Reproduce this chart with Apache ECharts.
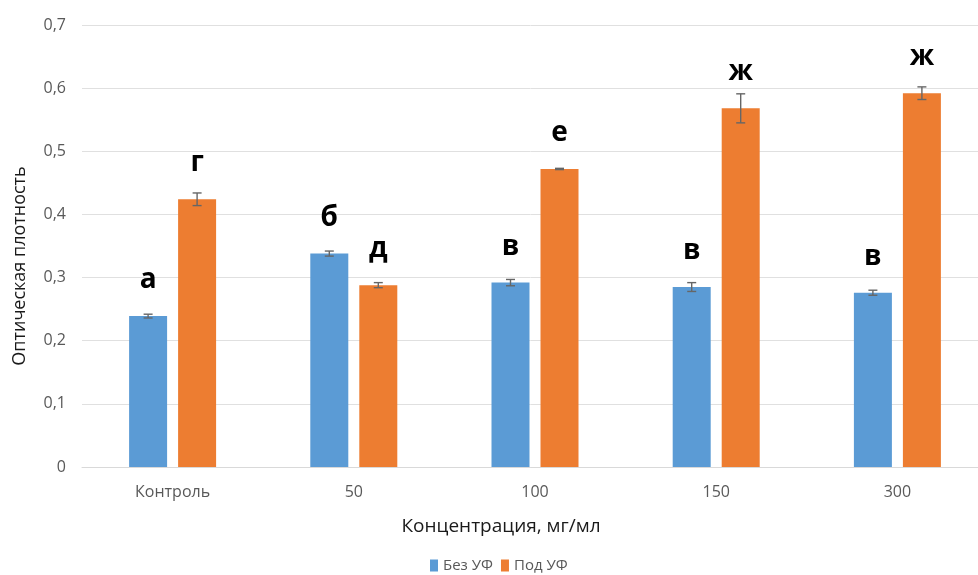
<!DOCTYPE html>
<html>
<head>
<meta charset="utf-8">
<script src="https://cdn.jsdelivr.net/npm/echarts@6/dist/echarts.min.js"></script>
<style>
  html, body { margin: 0; padding: 0; background: #fff; }
  #chart { width: 978px; height: 575px; }
</style>
</head>
<body>
<div id="chart"></div>
<script>
// Optical density by concentration, without / with UV exposure
const categories = ['Контроль', '50', '100', '150', '300'];
const noUV = [0.239, 0.338, 0.292, 0.285, 0.276];
const noUVErr = [0.003, 0.004, 0.005, 0.007, 0.004];
const withUV = [0.424, 0.288, 0.472, 0.568, 0.592];
const withUVErr = [0.010, 0.004, 0.001, 0.023, 0.010];
const noUVLetters = ['а', 'б', 'в', 'в', 'в'];
const withUVLetters = ['г', 'д', 'е', 'ж', 'ж'];
const yTicks = ['0', '0,1', '0,2', '0,3', '0,4', '0,5', '0,6', '0,7'];

const BAR_W = 38;
const BAR_GAP = 11;
const textFont = "'Open Sans', 'Liberation Sans', Arial, sans-serif";

const chart = echarts.init(document.getElementById('chart'));

// Error bars drawn as whiskers centred on each bar of a series
function errorSeries(values, errs, side) {
  return {
    type: 'custom',
    z: 5,
    silent: true,
    data: values.map((v, i) => [i, v - errs[i], v + errs[i]]),
    renderItem: function (params, api) {
      const i = api.value(0);
      const lo = api.coord([i, api.value(1)]);
      const hi = api.coord([i, api.value(2)]);
      const x = lo[0] + side * (BAR_W + BAR_GAP) / 2;
      const cap = 4.5;
      const style = { stroke: '#666666', lineWidth: 1.4 };
      return {
        type: 'group',
        children: [
          { type: 'line', shape: { x1: x, y1: hi[1], x2: x, y2: lo[1] }, style: style },
          { type: 'line', shape: { x1: x - cap, y1: hi[1], x2: x + cap, y2: hi[1] }, style: style },
          { type: 'line', shape: { x1: x - cap, y1: lo[1], x2: x + cap, y2: lo[1] }, style: style }
        ]
      };
    }
  };
}

function letterLabel(letters) {
  return {
    show: true,
    position: 'top',
    distance: 22,
    formatter: p => letters[p.dataIndex],
    fontSize: 28,
    fontWeight: 'bold',
    color: '#000',
    fontFamily: "'Open Sans', 'Liberation Sans', Arial, sans-serif"
  };
}

chart.setOption({
  animation: false,
  grid: { left: 82, right: -10, top: 25, bottom: 108, outerBoundsMode: 'none' },
  legend: {
    bottom: -3,
    left: 425,
    itemWidth: 8,
    itemHeight: 12,
    itemGap: 8,
    icon: 'rect',
    textStyle: { fontSize: 15, color: '#595959', fontFamily: textFont },
    data: ['Без УФ', 'Под УФ']
  },
  xAxis: {
    type: 'category',
    data: categories,
    name: 'Концентрация, мг/мл',
    nameLocation: 'middle',
    nameGap: 50,
    nameTextStyle: { fontSize: 19, color: '#1a1a1a', fontFamily: textFont, padding: [0, 68, 0, 0] },
    axisLine: { lineStyle: { color: '#d9d9d9', width: 1 } },
    axisTick: { show: false },
    axisLabel: { fontSize: 16, color: '#595959', margin: 17, fontFamily: textFont }
  },
  yAxis: {
    type: 'value',
    min: 0,
    max: 0.7,
    interval: 0.1,
    name: 'Оптическая плотность',
    nameLocation: 'middle',
    nameGap: 53,
    nameTextStyle: { fontSize: 18, color: '#1a1a1a', fontFamily: textFont, padding: [0, 40, 0, 0] },
    axisLine: { show: false },
    axisTick: { show: false },
    splitLine: { lineStyle: { color: '#e0e0e0', width: 1 } },
    axisLabel: {
      fontSize: 16,
      color: '#595959',
      margin: 16,
      fontFamily: textFont,
      formatter: (v) => yTicks[Math.round(v * 10)]
    }
  },
  series: [
    {
      name: 'Без УФ',
      type: 'bar',
      data: noUV,
      barWidth: BAR_W,
      barGap: (BAR_GAP / BAR_W * 100) + '%',
      itemStyle: { color: '#5b9bd5' },
      label: letterLabel(noUVLetters)
    },
    {
      name: 'Под УФ',
      type: 'bar',
      data: withUV,
      barWidth: BAR_W,
      barGap: (BAR_GAP / BAR_W * 100) + '%',
      itemStyle: { color: '#ed7d31' },
      label: letterLabel(withUVLetters)
    },
    errorSeries(noUV, noUVErr, -1),
    errorSeries(withUV, withUVErr, 1)
  ]
});
</script>
</body>
</html>
